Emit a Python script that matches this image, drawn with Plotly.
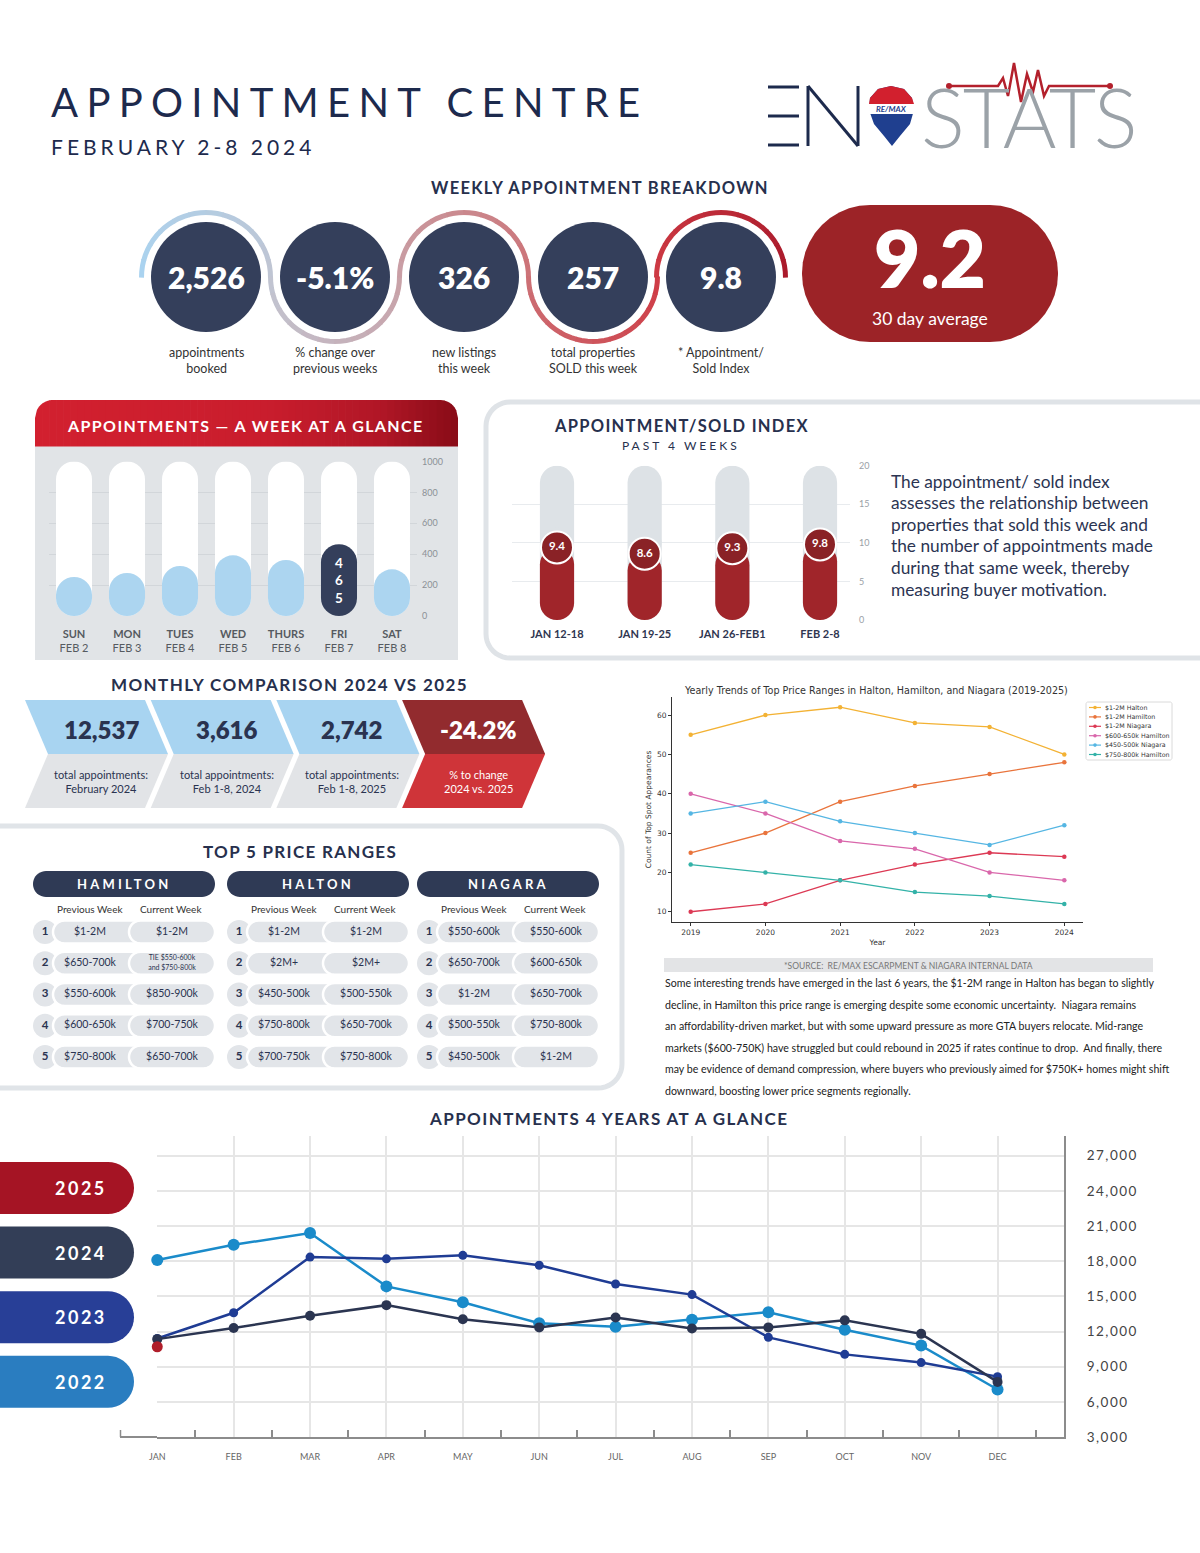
import numpy as np
import plotly.graph_objects as go

W, H = 1200, 1553
FONT = "Lato, 'Open Sans', sans-serif"
MPL = "'DejaVu Sans', sans-serif"
NAVY = "#27304d"
CIRCLE = "#343f5b"

# ---------------- data ----------------
kpi_values = ["2,526", "-5.1%", "326", "257", "9.8"]
kpi_labels = ["appointments<br>booked", "% change over<br>previous weeks", "new listings<br>this week",
              "total properties<br>SOLD this week", "* Appointment/<br>Sold Index"]
avg_30_day = "9.2"
avg_label = "30 day average"

week_days = ["SUN", "MON", "TUES", "WED", "THURS", "FRI", "SAT"]
week_dates = ["FEB 2", "FEB 3", "FEB 4", "FEB 5", "FEB 6", "FEB 7", "FEB 8"]
week_appts = [253, 279, 324, 393, 363, 465, 302]
week_ticks = [0, 200, 400, 600, 800, 1000]

index_weeks = ["JAN 12-18", "JAN 19-25", "JAN 26-FEB1", "FEB 2-8"]
index_values = [9.4, 8.6, 9.3, 9.8]
index_ticks = [0, 5, 10, 15, 20]
index_text = ["The appointment/ sold index", "assesses the relationship between",
              "properties that sold this week and", "the number of appointments made",
              "during that same week, thereby", "measuring buyer motivation."]

monthly_values = ["12,537", "3,616", "2,742", "-24.2%"]
monthly_labels = ["total appointments:<br>February 2024", "total appointments:<br>Feb 1-8, 2024",
                  "total appointments:<br>Feb 1-8, 2025", "% to change<br>2024 vs. 2025"]

ranks = [1, 2, 3, 4, 5]
hamilton_prev = ["$1-2M", "$650-700k", "$550-600k", "$600-650k", "$750-800k"]
hamilton_curr = ["$1-2M", "TIE $550-600k<br>and $750-800k", "$850-900k", "$700-750k", "$650-700k"]
halton_prev = ["$1-2M", "$2M+", "$450-500k", "$750-800k", "$700-750k"]
halton_curr = ["$1-2M", "$2M+", "$500-550k", "$650-700k", "$750-800k"]
niagara_prev = ["$550-600k", "$650-700k", "$1-2M", "$500-550k", "$450-500k"]
niagara_curr = ["$550-600k", "$600-650k", "$650-700k", "$750-800k", "$1-2M"]

trend_years = [2019, 2020, 2021, 2022, 2023, 2024]
halton_1_2m = [55, 60, 62, 58, 57, 50]
hamilton_1_2m = [25, 30, 38, 42, 45, 48]
niagara_1_2m = [10, 12, 18, 22, 25, 24]
hamilton_600_650k = [40, 35, 28, 26, 20, 18]
niagara_450_500k = [35, 38, 33, 30, 27, 32]
hamilton_750_800k = [22, 20, 18, 15, 14, 12]
trend_names = ["$1-2M Halton", "$1-2M Hamilton", "$1-2M Niagara",
               "$600-650k Hamilton", "$450-500k Niagara", "$750-800k Hamilton"]
trend_ticks = [10, 20, 30, 40, 50, 60]

paragraph = [
    "Some interesting trends have emerged in the last 6 years, the $1-2M range in Halton has began to slightly",
    "decline, in Hamilton this price range is emerging despite some economic uncertainty.  Niagara remains",
    "an affordability-driven market, but with some upward pressure as more GTA buyers relocate. Mid-range",
    "markets ($600-750K) have struggled but could rebound in 2025 if rates continue to drop.  And finally, there",
    "may be evidence of demand compression, where buyers who previously aimed for $750K+ homes might shift",
    "downward, boosting lower price segments regionally.",
]

months = ["JAN", "FEB", "MAR", "APR", "MAY", "JUN", "JUL", "AUG", "SEP", "OCT", "NOV", "DEC"]
appts_2022 = [18100, 19400, 20400, 15850, 14500, 12700, 12400, 13000, 13650, 12150, 10800, 7050]
appts_2023 = [11400, 13600, 18350, 18200, 18500, 17650, 16050, 15150, 11500, 10050, 9350, 8150]
appts_2024 = [11350, 12300, 13350, 14250, 13050, 12350, 13200, 12250, 12350, 12950, 11800, 7700]
appts_2025 = [10700]
year_labels = ["2025", "2024", "2023", "2022"]
appt_ticks = [3000, 6000, 9000, 12000, 15000, 18000, 21000, 24000, 27000]

# ---------------- helpers ----------------
shapes, annos = [], []


def X(px):
    return px / W


def Y(py):
    return 1 - py / H


def dom_x(a, b):
    return [a / W, b / W]


def dom_y(top, bottom):
    return [1 - bottom / H, 1 - top / H]


def hex2rgb(h):
    h = h.lstrip('#')
    return [int(h[i:i + 2], 16) for i in (0, 2, 4)]


def interp(stops, t):
    for (t0, c0), (t1, c1) in zip(stops[:-1], stops[1:]):
        if t <= t1:
            f = (t - t0) / (t1 - t0) if t1 > t0 else 0
            a, b = hex2rgb(c0), hex2rgb(c1)
            return "rgb(%d,%d,%d)" % tuple(round(a[i] + (b[i] - a[i]) * f) for i in range(3))
    return stops[-1][1]


def poly(pts, fill=None, lc=None, lw=0, closed=True, layer='below'):
    d = "M " + " L ".join(f"{X(x):.5f},{Y(y):.5f}" for x, y in pts) + (" Z" if closed else "")
    shapes.append(dict(type='path', xref='paper', yref='paper', path=d,
                       fillcolor=fill if (closed and fill) else 'rgba(0,0,0,0)',
                       line=dict(color=lc or 'rgba(0,0,0,0)', width=lw), layer=layer))


def rrect(x0, y0, x1, y1, r, tl=True, tr=True, br=True, bl=True, n=10):
    pts = []

    def arc(cx, cy, a0, a1):
        for k in range(n + 1):
            a = a0 + (a1 - a0) * k / n
            pts.append((cx + r * np.cos(a), cy - r * np.sin(a)))
    if tl:
        arc(x0 + r, y0 + r, np.pi, np.pi / 2)
    else:
        pts.append((x0, y0))
    if tr:
        arc(x1 - r, y0 + r, np.pi / 2, 0)
    else:
        pts.append((x1, y0))
    if br:
        arc(x1 - r, y1 - r, 0, -np.pi / 2)
    else:
        pts.append((x1, y1))
    if bl:
        arc(x0 + r, y1 - r, -np.pi / 2, -np.pi)
    else:
        pts.append((x0, y1))
    return pts


def circle(cx, cy, r, fill, lc=None, lw=0, layer='below'):
    shapes.append(dict(type='circle', xref='paper', yref='paper', x0=X(cx - r), x1=X(cx + r),
                       y0=Y(cy + r), y1=Y(cy - r), fillcolor=fill,
                       line=dict(color=lc or 'rgba(0,0,0,0)', width=lw), layer=layer))


def line(x0, y0, x1, y1, color, w):
    shapes.append(dict(type='line', xref='paper', yref='paper', x0=X(x0), y0=Y(y0), x1=X(x1), y1=Y(y1),
                       line=dict(color=color, width=w), layer='below'))


def txt(x, y, s, size, color, bold=False, family=FONT, xanchor='center', yanchor='middle',
        spacing=None, align='center', weight=None):
    if spacing:
        s = f"<span style='letter-spacing:{spacing}px'>{s}</span>"
    if bold:
        s = f"<b>{s}</b>"
    f = dict(size=size, color=color, family=family)
    if weight:
        f['weight'] = weight
    annos.append(dict(x=X(x), y=Y(y), xref='paper', yref='paper', text=s, showarrow=False,
                      font=f, xanchor=xanchor, yanchor=yanchor, align=align, borderpad=0))


fig = go.Figure()

# ---------------- header ----------------
txt(50, 102, "APPOINTMENT CENTRE", 40, "#1d2a4d", xanchor='left', spacing=8.3)
txt(50, 147, "FEBRUARY 2-8 2024", 21, "#1d2a4d", xanchor='left', spacing=4)

# logo
for yy in (87, 116, 145):
    line(768, yy, 799, yy, "#1d2a4d", 3)
line(808, 86, 808, 146, "#1d2a4d", 3)
line(808, 86, 858, 146, "#1d2a4d", 3)
line(858, 86, 858, 146, "#1d2a4d", 3)
balloon = [(869, 110), (870, 98), (878, 89), (891, 86), (904, 89), (912, 98), (914, 110), (910, 124),
           (900, 136), (892, 146), (884, 136), (874, 124)]
poly(balloon, "#1f3f8f")
poly([(869, 104), (870, 98), (878, 89), (891, 86), (904, 89), (912, 98), (914, 104)], "#d2202e")
poly([(869, 104), (914, 104), (914, 114), (869, 114)], "white")
txt(891, 109, "<i>RE/MAX</i>", 8, "#1f3f8f", bold=True)
txt(1028, 116, "STATS", 82, "#9ba2a8", spacing=-2, weight=300)
hb = [(949, 86), (998, 86), (1003, 78), (1008, 96), (1014, 63), (1021, 102), (1027, 74), (1033, 92),
      (1038, 70), (1044, 96), (1049, 86), (1110, 86)]
poly(hb, None, "#b3202c", 2.5, closed=False)
circle(949, 86, 3, "#b3202c")
circle(1110, 86, 3, "#b3202c")

# ---------------- weekly breakdown ----------------
txt(600, 188, "WEEKLY APPOINTMENT BREAKDOWN", 16.5, NAVY, bold=True, spacing=1.3)
centers = [206, 335, 464, 593, 721]
R = 64.5
rib_stops = [(0, '#a9d4f1'), (0.22, '#c2c3cf'), (0.42, '#c99ca2'), (0.6, '#cc7176'),
             (0.8, '#cf3b45'), (1, '#a8192a')]
nseg = 12
for k, cx in enumerate(centers):
    sgn = -1 if k % 2 == 0 else 1
    for s in range(nseg):
        a0 = np.pi - np.pi * s / nseg + 0.01
        a1 = np.pi - np.pi * (s + 1) / nseg - 0.01
        t = (k + (s + 0.5) / nseg) / len(centers)
        pts = [(cx + R * np.cos(a), 277 + sgn * R * np.sin(a)) for a in np.linspace(a0, a1, 4)]
        poly(pts, None, interp(rib_stops, t), 5, closed=False)
for cx, v, lab in zip(centers, kpi_values, kpi_labels):
    circle(cx, 277, 55, CIRCLE)
    txt(cx, 277, v, 30, "white", weight=800)
    txt(cx, 360, lab, 12.5, "#333333")
poly(rrect(802, 205, 1058, 342, 68), "#9c2327")
txt(930, 257, avg_30_day, 80, "white", weight=800)
txt(930, 318, avg_label, 17.5, "white")

# ---------------- week at a glance ----------------
hx0, hx1, hy0, hy1, hr = 35, 458, 400, 447, 18
head_stops = [(0, '#d2202f'), (0.55, '#c91d2d'), (0.82, '#b01626'), (1, '#880c17')]


def head_top(x):
    if x < hx0 + hr:
        return hy0 + hr - np.sqrt(max(hr ** 2 - (hx0 + hr - x) ** 2, 0))
    if x > hx1 - hr:
        return hy0 + hr - np.sqrt(max(hr ** 2 - (x - (hx1 - hr)) ** 2, 0))
    return hy0


NS = 60
for i in range(NS):
    xa = hx0 + (hx1 - hx0) * i / NS
    xb = min(hx0 + (hx1 - hx0) * (i + 1) / NS + 0.7, hx1)
    xs = np.linspace(xa, xb, 5)
    pts = [(x, head_top(x)) for x in xs] + [(xb, hy1), (xa, hy1)]
    poly(pts, interp(head_stops, (i + 0.5) / NS))
txt(246, 426, "APPOINTMENTS — A WEEK AT A GLANCE", 16, "white", bold=True, spacing=1.4)
poly([(hx0, hy1 - 0.5), (hx1, hy1 - 0.5), (hx1, 660), (hx0, 660)], "#e1e4e7")

xw = list(range(len(week_days)))
hl = int(np.argmax(week_appts))
wmax = week_ticks[-1]
fig.add_trace(go.Bar(x=xw, y=[wmax * 0.6] * len(xw), base=[wmax * 0.4] * len(xw), width=0.68,
                     marker=dict(color="white", cornerradius=18, line=dict(width=0)),
                     xaxis='x', yaxis='y', hoverinfo='skip', showlegend=False))
fig.add_trace(go.Bar(x=xw, y=[-wmax * 0.6] * len(xw), base=[wmax * 0.6] * len(xw), width=0.68,
                     marker=dict(color="white", cornerradius=18, line=dict(width=0)),
                     xaxis='x', yaxis='y', hoverinfo='skip', showlegend=False))
fig.add_trace(go.Bar(x=xw, y=[-v for v in week_appts], base=week_appts, width=0.68,
                     marker=dict(color=[CIRCLE if i == hl else "#acd5f0" for i in xw], cornerradius=18,
                                 line=dict(width=0)),
                     text=["<b>" + "<br>".join(str(v)) + "</b>" if i == hl else "" for i, v in enumerate(week_appts)],
                     textposition='inside', insidetextanchor='middle', textangle=0, constraintext='none',
                     textfont=dict(color="white", size=13.5, family=FONT),
                     xaxis='x', yaxis='y', hoverinfo='skip', showlegend=False))

# ---------------- appointment / sold index ----------------
poly(rrect(486, 402, 1240, 658, 24), "white", "#dfe3e7", 5)
txt(681, 426, "APPOINTMENT/SOLD INDEX", 16.5, NAVY, bold=True, spacing=1.3)
txt(681, 445, "PAST 4 WEEKS", 12, NAVY, spacing=3)
xi = list(range(len(index_weeks)))
imax = index_ticks[-1]
fig.add_trace(go.Bar(x=xi, y=[imax * 0.6] * len(xi), base=[imax * 0.4] * len(xi), width=0.39,
                     marker=dict(color="#dde2e6", cornerradius=17, line=dict(width=0)),
                     xaxis='x2', yaxis='y2', hoverinfo='skip', showlegend=False))
fig.add_trace(go.Bar(x=xi, y=[-imax * 0.6] * len(xi), base=[imax * 0.6] * len(xi), width=0.39,
                     marker=dict(color="#dde2e6", cornerradius=17, line=dict(width=0)),
                     xaxis='x2', yaxis='y2', hoverinfo='skip', showlegend=False))
fig.add_trace(go.Bar(x=xi, y=[-v for v in index_values], base=index_values, width=0.39,
                     marker=dict(color="#a0252a", cornerradius=17, line=dict(width=0)),
                     xaxis='x2', yaxis='y2', hoverinfo='skip', showlegend=False))
fig.add_trace(go.Scatter(x=xi, y=index_values, mode='markers+text',
                         marker=dict(size=32, color="#8a2226", line=dict(color="white", width=2)),
                         text=[f"<b>{v}</b>" for v in index_values], textposition='middle center',
                         textfont=dict(color="white", size=11.5, family=FONT),
                         xaxis='x2', yaxis='y2', hoverinfo='skip', showlegend=False, cliponaxis=False))
for i, s in enumerate(index_text):
    txt(890, 481 + 21.6 * i, s, 17.3, "#2b3452", xanchor='left')

# ---------------- monthly comparison ----------------
txt(289, 684, "MONTHLY COMPARISON 2024 VS 2025", 17, NAVY, bold=True, spacing=1.4)
for i, (v, lab) in enumerate(zip(monthly_values, monthly_labels)):
    L = 25 + 125.7 * i
    last = i == len(monthly_values) - 1
    poly([(L, 700), (L + 120, 700), (L + 143, 754), (L + 23, 754)], "#922b2e" if last else "#a8d4f1")
    poly([(L + 23, 754), (L + 143, 754), (L + 120, 808), (L, 808)], "#cf3439" if last else "#e2e4e7")
    txt(L + 76, 729, v, 24, "white" if last else "#2a3350", weight=800)
    txt(L + 76, 781, lab, 11, "white" if last else "#2a3350")

# ---------------- top 5 price ranges ----------------
poly(rrect(-40, 826, 622, 1088, 24), "white", "#e0e4e8", 5)
txt(300, 851, "TOP 5 PRICE RANGES", 17, NAVY, bold=True, spacing=1.3)
groups = [("HAMILTON", 33, hamilton_prev, hamilton_curr),
          ("HALTON", 227, halton_prev, halton_curr),
          ("NIAGARA", 417, niagara_prev, niagara_curr)]
row_y = lambda r: 932 + 31.25 * (r - 1)
for name, g, prev, curr in groups:
    poly(rrect(g, 871, g + 182, 897, 13), "#2f3a55")
    txt(g + 91, 884, name, 13, "white", bold=True, spacing=3.2)
    txt(g + 57, 909, "Previous Week", 10, "#333333")
    txt(g + 138, 909, "Current Week", 10, "#333333")
    for r in ranks:
        yc = row_y(r)
        circle(g + 12, yc, 12, "#e2e5e9")
        poly(rrect(g + 20, yc - 11.5, g + 140, yc + 11.5, 11.5), "#e2e5e9", "white", 2.5)
        poly(rrect(g + 96, yc - 11.5, g + 182, yc + 11.5, 11.5), "#e2e5e9", "white", 2.5)
    fig.add_trace(go.Scatter(x=[g + 12] * len(ranks), y=ranks, text=[f"<b>{r}</b>" for r in ranks],
                             mode='text', textfont=dict(size=11.5, color="#2a3350", family=FONT),
                             xaxis='x4', yaxis='y4', hoverinfo='skip', showlegend=False, cliponaxis=False))
    fig.add_trace(go.Scatter(x=[g + 57] * len(ranks), y=ranks, text=prev, mode='text',
                             textfont=dict(size=10.5, color="#2a3350", family=FONT),
                             xaxis='x4', yaxis='y4', hoverinfo='skip', showlegend=False, cliponaxis=False))
    fig.add_trace(go.Scatter(x=[g + 139] * len(ranks), y=ranks, text=curr, mode='text',
                             textfont=dict(size=[7 if '<br>' in c else 10.5 for c in curr],
                                           color="#2a3350", family=FONT),
                             xaxis='x4', yaxis='y4', hoverinfo='skip', showlegend=False, cliponaxis=False))

# ---------------- yearly trends (matplotlib-like) ----------------
trend_data = [halton_1_2m, hamilton_1_2m, niagara_1_2m, hamilton_600_650k, niagara_450_500k, hamilton_750_800k]
trend_colors = ["#f3b234", "#e9743c", "#dc3954", "#d967ab", "#55b6e3", "#33b2a8"]
for name, vals, col in zip(trend_names, trend_data, trend_colors):
    fig.add_trace(go.Scatter(x=trend_years, y=vals, name=name, mode='lines+markers',
                             line=dict(color=col, width=1.3), marker=dict(size=4.5, color=col),
                             xaxis='x3', yaxis='y3', hoverinfo='skip', showlegend=False))
txt(876, 691, "Yearly Trends of Top Price Ranges in Halton, Hamilton, and Niagara (2019-2025)", 9.6,
    "#333333", family=MPL)
poly(rrect(1086, 702, 1172, 760, 2), "white", "#d0d0d0", 0.8)
for i, (name, col) in enumerate(zip(trend_names, trend_colors)):
    yy = 707.5 + 9.4 * i
    line(1089, yy, 1101, yy, col, 1.2)
    circle(1095, yy, 1.8, col)
    txt(1104, yy, name, 6.3, "#333333", family=MPL, xanchor='left')

# source + paragraph
poly([(664, 958), (1153, 958), (1153, 972), (664, 972)], "#e3e4e6")
txt(908, 965.5, "*SOURCE:  RE/MAX ESCARPMENT & NIAGARA INTERNAL DATA", 8.5, "#777777")
for i, s in enumerate(paragraph):
    txt(664, 983 + 21.6 * i, s, 10.6, "#222222", xanchor='left')

# ---------------- 4 years at a glance ----------------
txt(609, 1118, "APPOINTMENTS 4 YEARS AT A GLANCE", 17, NAVY, bold=True, spacing=1.4)
year_colors = ["#a51424", "#333e57", "#283f97", "#2a7dc0"]
for i, (yl, col) in enumerate(zip(year_labels, year_colors)):
    y0 = 1162 + 64.6 * i
    poly(rrect(-40, y0, 134, y0 + 52, 26), col, layer='above')
    txt(81, y0 + 26, yl, 18, "white", bold=True, spacing=2.5)
# start of the month axis line (left of January) with its first tick
line(120, 1437, 157, 1437, "#8c8c8c", 2)
line(120.5, 1430, 120.5, 1437, "#8c8c8c", 1.5)

xm = list(range(len(months)))
series = [(appts_2022, "#1a8bca", 12), (appts_2023, "#1f3c94", 9), (appts_2024, "#2b3551", 10),
          (appts_2025, "#b01e2a", 11)]
for vals, col, ms in series:
    fig.add_trace(go.Scatter(x=xm[:len(vals)], y=vals, mode='lines+markers',
                             line=dict(color=col, width=2.5), marker=dict(size=ms, color=col),
                             xaxis='x5', yaxis='y5', hoverinfo='skip', showlegend=False, cliponaxis=False))

# ---------------- layout ----------------
fig.update_layout(
    width=W, height=H, margin=dict(l=0, r=0, t=0, b=0), template='none',
    paper_bgcolor="white", plot_bgcolor="rgba(0,0,0,0)", barmode='overlay', showlegend=False,
    font=dict(family=FONT),
    shapes=shapes, annotations=annos,
    xaxis=dict(domain=dom_x(49, 417), range=[-0.472, 6.472], tickvals=xw,
               ticktext=[f"<b>{d}</b><br>{dt}" for d, dt in zip(week_days, week_dates)],
               tickfont=dict(size=11, color="#555a60", family=FONT), ticks='', showgrid=False,
               zeroline=False, showline=False, anchor='y', ticklabelstandoff=10),
    yaxis=dict(domain=dom_y(461.5, 616), range=[0, wmax], side='right', tickvals=week_ticks,
               tickfont=dict(size=9, color="#8b9096", family=FONT), ticks='', showgrid=True,
               gridcolor="#d2d6da", gridwidth=1, zeroline=False, showline=False, anchor='x',
               ticklabelstandoff=4),
    xaxis2=dict(domain=dom_x(512, 850), range=[(512 - 557) / 87.67, (850 - 557) / 87.67], tickvals=xi,
                ticktext=[f"<b>{w}</b>" for w in index_weeks],
                tickfont=dict(size=11, color="#2f3650", family=FONT), ticks='', showgrid=False,
                zeroline=False, showline=False, anchor='y2', ticklabelstandoff=6),
    yaxis2=dict(domain=dom_y(465.7, 620), range=[0, imax], side='right', tickvals=index_ticks,
                tickfont=dict(size=9, color="#9aa0a6", family=FONT), ticks='', showgrid=True,
                gridcolor="#e8ebee", gridwidth=1, zeroline=False, showline=False, anchor='x2',
                ticklabelstandoff=8),
    xaxis3=dict(domain=dom_x(672, 1083), range=[2018.75, 2024.25], tickvals=trend_years,
                tickfont=dict(size=7.5, color="#333333", family=MPL), ticks='outside', ticklen=3,
                tickcolor="#333333", showline=True, linecolor="#333333", linewidth=0.8,
                showgrid=False, zeroline=False, anchor='y3',
                title=dict(text="Year", font=dict(size=7.5, color="#333333", family=MPL), standoff=3)),
    yaxis3=dict(domain=dom_y(697, 922), range=[7.4, 64.6], tickvals=trend_ticks,
                tickfont=dict(size=7.5, color="#333333", family=MPL), ticks='outside', ticklen=3,
                tickcolor="#333333", showline=True, linecolor="#333333", linewidth=0.8,
                showgrid=False, zeroline=False, anchor='x3',
                title=dict(text="Count of Top Spot Appearances",
                           font=dict(size=7.5, color="#333333", family=MPL), standoff=4)),
    xaxis4=dict(domain=[0, 620 / W], range=[0, 620], visible=False, anchor='y4'),
    yaxis4=dict(domain=dom_y(916.4, 1072.6), range=[5.5, 0.5], visible=False, anchor='x4'),
    xaxis5=dict(domain=dom_x(156.5, 1064), range=[-0.01, 11.87], tickvals=xm, ticktext=months,
                tickfont=dict(size=9, color="#666666", family=FONT), ticks='', showgrid=True,
                gridcolor="#e6e6e6", gridwidth=1.5, showline=True, linecolor="#8c8c8c", linewidth=2,
                zeroline=False, anchor='y5', ticklabelstandoff=10,
                minor=dict(tickvals=[i + 0.5 for i in xm], ticks='inside', ticklen=7,
                           tickcolor="#8c8c8c", tickwidth=1.5, showgrid=False)),
    yaxis5=dict(domain=dom_y(1136, 1437), range=[3000, 28680], side='right', tickvals=appt_ticks,
                ticktext=[f"<span style='letter-spacing:1.5px'>{v:,}</span>" for v in appt_ticks],
                tickfont=dict(size=13.5, color="#444444", family=FONT), ticks='', showgrid=True,
                gridcolor="#e6e6e6", gridwidth=1.5, showline=True, linecolor="#8c8c8c", linewidth=2,
                zeroline=False, anchor='x5', ticklabelstandoff=18),
)

fig.write_html("out.html", config={"displayModeBar": False},
               post_script="document.body.style.margin='0px';")
